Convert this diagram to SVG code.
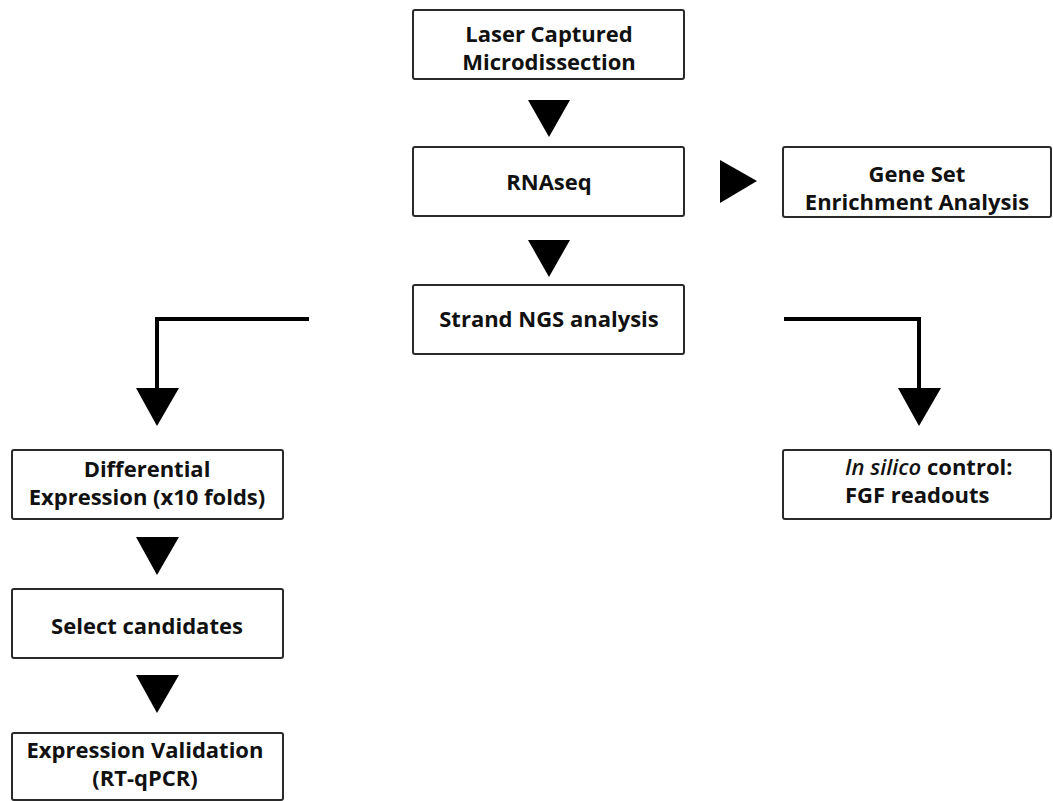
<svg xmlns="http://www.w3.org/2000/svg" width="1053" height="801" viewBox="0 0 1053 801">
<style>
.box{fill:#fff;stroke:#2a2a2a;stroke-width:2}
.t{font-family:"Open Sans","Liberation Sans",sans-serif;font-weight:700;font-size:22px;fill:#111;text-anchor:middle}
.l{text-anchor:start}
.ln{fill:none;stroke:#000;stroke-width:4}
.ah{fill:#000}
</style>
<rect width="1053" height="801" fill="#fff"/>
<g id="connectors">
<polygon class="ah" points="528,100 570,100 549,137"/>
<polygon class="ah" points="528,240 570,240 549,277"/>
<polygon class="ah" points="720,160 720,203 757,181"/>
<path class="ln" d="M309,319 H157 V392"/>
<polygon class="ah" points="136,388 179,388 157,426"/>
<path class="ln" d="M784,319 H919 V392"/>
<polygon class="ah" points="898,388 941,388 919,426"/>
<polygon class="ah" points="136,537 179,537 157,575"/>
<polygon class="ah" points="136,675 179,675 157,713"/>
</g>
<g id="laser">
<rect class="box" x="413" y="10" width="271" height="69" rx="2"/>
<text class="t" x="549" y="42">Laser Captured</text>
<text class="t" x="549" y="70">Microdissection</text>
</g>
<g id="rnaseq">
<rect class="box" x="413" y="147" width="271" height="69" rx="2"/>
<text class="t" x="549" y="190">RNAseq</text>
</g>
<g id="strand">
<rect class="box" x="413" y="285" width="271" height="69" rx="2"/>
<text class="t" x="549" y="327">Strand NGS analysis</text>
</g>
<g id="gsea">
<rect class="box" x="783" y="147" width="268" height="70" rx="2"/>
<text class="t" x="917" y="182">Gene Set</text>
<text class="t" x="917" y="210">Enrichment Analysis</text>
</g>
<g id="diff">
<rect class="box" x="12" y="450" width="271" height="69" rx="2"/>
<text class="t" x="147" y="477">Differential</text>
<text class="t" x="147" y="505">Expression (x10 folds)</text>
</g>
<g id="select">
<rect class="box" x="12" y="589" width="271" height="69" rx="2"/>
<text class="t" x="147" y="634">Select candidates</text>
</g>
<g id="validation">
<rect class="box" x="12" y="733" width="271" height="67" rx="2"/>
<text class="t" x="145" y="758">Expression Validation</text>
<text class="t" x="145" y="786">(RT-qPCR)</text>
</g>
<g id="insilico">
<rect class="box" x="783" y="450" width="268" height="69" rx="2"/>
<text class="t l" x="845" y="475"><tspan font-style="italic" font-weight="600">In silico</tspan> control:</text>
<text class="t l" x="845" y="503">FGF readouts</text>
</g>
</svg>
